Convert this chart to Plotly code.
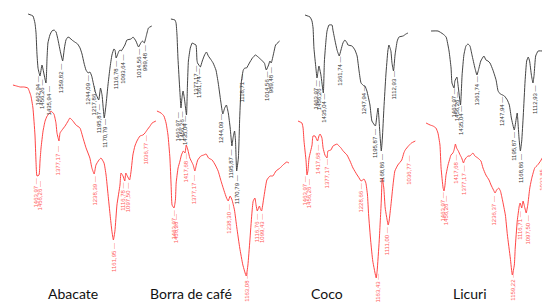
import plotly.graph_objects as go

# ---------------- DATA (wavenumber cm-1, relative transmittance a.u.) ----------------
panel_names = ["Abacate", "Borra de café", "Coco", "Licuri"]

# Abacate
abacate_black_wn = [1517,1495,1486,1481,1477,1472,1463,1454,1436,1431,1427,1418,1409,1399,1390,1381,1372,1366,1360,1352,1345,1336,1327,1318,1305,1292,1281,1272,1263,1254,1244,1236,1228,1218,1210,1196,1188,1181,1171,1163,1154,1145,1136,1127,1122,1117,1104,1099,1094,1077,1068,1049,1040,1027,1015,1005,997,989,980,970,955]
abacate_black_t = [294,292,285,275,255,240,232,243,225,250,265,273,277,278,276,268,258,252,247,260,268,271,270,268,266,264,260,254,245,238,235,236,232,222,215,208,220,213,190,203,223,240,253,259,258,250,257,258,257,263,268,269,271,267,261,265,267,265,272,280,282]
abacate_red_wn = [1559,1545,1530,1515,1500,1488,1480,1472,1468,1464,1456,1452,1448,1440,1432,1424,1413,1409,1397,1389,1385,1377,1373,1365,1353,1341,1334,1322,1310,1294,1282,1270,1255,1247,1238,1231,1219,1211,1199,1191,1183,1175,1168,1162,1156,1148,1136,1132,1124,1117,1113,1107,1098,1092,1085,1077,1069,1057,1045,1037,1029,1017,1009,994]
abacate_red_t = [223,222,221,221,220,212,200,173,147,132,133,147,160,177,187,192,195,197,194,185,175,167,175,178,182,187,190,187,183,180,170,160,150,140,134,143,148,150,145,133,113,93,77,68,77,103,123,135,132,127,135,132,128,137,153,162,167,172,173,175,178,182,185,187]
abacate_black_peaks = [1462.94,1456.26,1435.94,1359.82,1244.09,1217.86,1195.87,1170.79,1116.78,1093.64,1014.56,989.48]
abacate_red_peaks = [1463.97,1456.26,1377.17,1238.39,1161.95,1116.78,1097.50,1036.77]

# Borra de café
borra_black_wn = [1517,1496,1490,1485,1480,1470,1464,1459,1453,1445,1435,1430,1425,1415,1405,1395,1385,1380,1377,1370,1362,1352,1340,1330,1320,1305,1295,1280,1268,1255,1244,1234,1225,1215,1205,1196,1190,1182,1177,1174,1171,1162,1155,1146,1136,1128,1119,1104,1088,1072,1052,1041,1025,1015,1003,996,989,976,966,945]
borra_black_t = [289,288,285,273,250,217,200,210,217,208,193,223,247,260,265,264,263,248,245,243,241,247,253,256,252,248,245,238,225,207,194,200,203,195,180,162,170,177,167,150,137,150,190,227,238,240,240,245,250,253,250,248,245,238,243,247,245,255,263,267]
borra_red_wn = [1535,1518,1506,1497,1489,1481,1476,1472,1464,1458,1455,1447,1439,1433,1425,1418,1413,1406,1398,1390,1384,1377,1371,1365,1352,1340,1330,1320,1305,1292,1280,1268,1255,1245,1238,1230,1222,1212,1202,1190,1177,1163,1156,1148,1140,1134,1127,1122,1117,1108,1104,1099,1090,1077,1064,1052,1039,1022,1010,994,985]
borra_red_t = [197,195,192,185,173,150,123,103,100,108,125,140,147,153,157,155,163,158,150,146,143,137,143,148,152,153,154,150,148,143,137,127,117,110,107,112,108,98,80,60,43,32,43,67,93,107,110,103,97,102,99,97,110,128,132,132,137,140,143,146,145]
borra_black_peaks = [1463.97,1456.26,1435.04,1377.17,1361.74,1244.09,1195.87,1170.79,1118.71,1014.56,989.48]
borra_red_peaks = [1463.97,1456.26,1417.68,1377.17,1238.30,1163.08,1116.76,1099.43]

# Coco
coco_black_wn = [1519,1496,1487,1482,1478,1469,1464,1459,1455,1446,1435,1430,1423,1418,1409,1395,1391,1381,1372,1362,1354,1345,1336,1326,1322,1303,1290,1280,1271,1262,1248,1244,1235,1221,1212,1196,1189,1184,1180,1175,1169,1164,1157,1148,1139,1134,1125,1120,1113,1106,1096,1088,1069,1056,1047]
coco_black_t = [293,291,287,280,260,240,230,237,242,233,215,247,267,277,283,283,278,267,258,252,258,265,268,265,263,262,258,252,237,225,222,222,217,203,187,182,193,200,190,173,157,170,200,233,257,263,257,245,237,253,267,271,272,274,275]
coco_red_wn = [1503,1486,1481,1477,1468,1464,1460,1455,1442,1438,1429,1418,1412,1407,1399,1394,1386,1377,1373,1360,1351,1333,1329,1316,1307,1290,1277,1264,1246,1240,1229,1222,1216,1208,1201,1196,1187,1178,1163,1159,1150,1141,1137,1130,1124,1111,1107,1099,1090,1082,1069,1052,1043,1037,1023,1010,993]
coco_red_t = [187,185,180,167,147,133,137,150,163,172,172,167,172,174,170,160,153,150,157,158,162,164,163,160,157,153,147,140,133,131,127,128,129,125,113,93,67,47,30,37,67,107,130,120,100,83,87,103,123,137,143,148,155,158,162,165,167]
coco_black_peaks = [1463.97,1456.26,1435.04,1361.74,1247.94,1195.87,1168.86,1112.93]
coco_red_peaks = [1463.97,1456.26,1417.68,1377.17,1228.66,1163.43,1111.00,1036.77]

# Licuri
licuri_black_wn = [1566,1535,1513,1499,1486,1477,1473,1464,1460,1451,1446,1435,1428,1420,1411,1402,1393,1384,1371,1362,1353,1345,1331,1322,1313,1304,1291,1277,1268,1258,1248,1240,1227,1218,1209,1196,1187,1183,1180,1175,1169,1163,1156,1148,1141,1134,1128,1120,1113,1108,1101,1090,1068,1045]
licuri_black_t = [277,277,274,271,257,240,225,220,227,231,223,203,233,253,262,264,262,253,240,233,240,247,252,248,247,245,238,228,217,214,213,212,208,203,190,178,190,195,187,170,157,167,193,227,247,251,247,233,225,233,252,257,257,258]
licuri_red_wn = [1544,1526,1513,1500,1491,1482,1477,1468,1464,1460,1455,1446,1437,1433,1424,1419,1413,1408,1400,1392,1385,1377,1372,1366,1357,1348,1335,1326,1313,1299,1290,1277,1263,1254,1243,1236,1229,1220,1212,1203,1190,1181,1168,1159,1150,1146,1137,1128,1124,1117,1111,1103,1097,1090,1081,1072,1059,1046,1033,1020,1006,985]
licuri_red_t = [185,183,182,180,175,163,140,120,117,122,133,143,150,153,155,158,164,160,157,153,150,145,148,150,152,152,155,152,150,147,140,133,128,123,118,115,118,120,117,108,93,73,50,33,43,60,87,102,105,100,107,100,95,103,120,130,140,143,147,152,153,153]
licuri_black_peaks = [1463.97,1456.26,1435.04,1361.74,1247.94,1195.87,1168.86,1112.93]
licuri_red_peaks = [1463.97,1456.26,1417.68,1377.17,1236.37,1159.22,1116.71,1097.50,1033.85]

# ---------------- LAYOUT / STYLE ----------------
W, H = 550, 304
BLACK = "#3a3a3a"
BLACK_TXT = "#333333"
RED = "#ff3b3b"
RED_TXT = "#ff5a5a"

# per-spectrum horizontal placement: (pixel of reference, reference wavenumber, px per cm-1)
placement = [
    (32, 1463.0, 0.220), (29, 1463.97, 0.253),
    (173, 1463.97, 0.190), (166, 1463.97, 0.240),
    (309, 1463.97, 0.218), (299, 1463.97, 0.230),
    (446, 1463.97, 0.225), (436, 1463.97, 0.224),
]
# label placement: top of label (px from top) and horizontal nudge
label_top = [
    [68,71,77,55,67,77,95,110,52,46,40,36],
    [170,172,137,168,234,174,174,127],
    [104,103,107,57,60,105,140,166,66,63,58],
    [202,205,145,166,196,264,205,205],
    [72,72,85,48,77,120,145,63],
    [168,170,136,150,175,265,218,147],
    [80,83,97,68,88,123,145,77],
    [184,187,146,157,187,263,203,207,153],
]
label_dx = [
    [-3,0,3,-2,-1,0,0,0,0,1,0,1],
    [-2,1,-1,0,0,-2,-2,0],
    [-4,-1,-2,-2,-2,-2,-1,0,-5,0,0],
    [-1,0,0,-1,0,0,0,0],
    [-2,0,0,0,-1,-1,0,0],
    [-3,0,0,0,-1,1,-1,3],
    [-1,1,0,-1,-1,-1,0,2],
    [-2,0,1,0,-1,0,-2,1,1],
]
title_x = [65, 183, 319, 462]
title_y = 285

spectra = [
    (abacate_black_wn, abacate_black_t, abacate_black_peaks, BLACK, BLACK_TXT),
    (abacate_red_wn, abacate_red_t, abacate_red_peaks, RED, RED_TXT),
    (borra_black_wn, borra_black_t, borra_black_peaks, BLACK, BLACK_TXT),
    (borra_red_wn, borra_red_t, borra_red_peaks, RED, RED_TXT),
    (coco_black_wn, coco_black_t, coco_black_peaks, BLACK, BLACK_TXT),
    (coco_red_wn, coco_red_t, coco_red_peaks, RED, RED_TXT),
    (licuri_black_wn, licuri_black_t, licuri_black_peaks, BLACK, BLACK_TXT),
    (licuri_red_wn, licuri_red_t, licuri_red_peaks, RED, RED_TXT),
]

fig = go.Figure()
annotations = []
layout_axes = {}

for i, (wn, t, peaks, lc, tc) in enumerate(spectra):
    assert len(wn) == len(t)
    assert len(peaks) == len(label_top[i]) == len(label_dx[i])
    p0, w0, k = placement[i]
    pL = max(0.0, p0 - 160)
    pR = min(float(W), p0 + 160)
    wL = w0 + (p0 - pL) / k
    wR = w0 - (pR - p0) / k
    axname = "xaxis" if i == 0 else f"xaxis{i+1}"
    xref = "x" if i == 0 else f"x{i+1}"
    layout_axes[axname] = dict(domain=[pL / W, pR / W], range=[wL, wR],
                               visible=False, anchor="y", fixedrange=True)
    fig.add_trace(go.Scatter(x=wn, y=t, mode="lines", xaxis=xref, yaxis="y",
                             line=dict(color=lc, width=0.95, shape="spline", smoothing=0.4),
                             hoverinfo="skip", showlegend=False))
    for pk, top, dx in zip(peaks, label_top[i], label_dx[i]):
        annotations.append(dict(
            x=pk, y=300 - top, xref=xref, yref="y",
            text=f"{pk:.2f}".replace(".", ",") + " —",
            textangle=-90, showarrow=False, xanchor="center", yanchor="top",
            xshift=dx, borderpad=0,
            font=dict(family="Liberation Sans, Arial", size=6, color=tc)))

for name, tx in zip(panel_names, title_x):
    annotations.append(dict(x=tx / W, y=(H - title_y) / H, xref="paper", yref="paper",
                            text=name, showarrow=False, xanchor="center", yanchor="middle",
                            font=dict(family="Lato, Open Sans, sans-serif", size=14, color="#111111")))

fig.update_layout(
    width=W, height=H, margin=dict(l=0, r=0, t=0, b=0),
    paper_bgcolor="white", plot_bgcolor="rgba(0,0,0,0)",
    yaxis=dict(domain=[0, 1], range=[-4, 300], visible=False, fixedrange=True),
    annotations=annotations, showlegend=False,
    **layout_axes,
)

fig.write_html("out.html")
